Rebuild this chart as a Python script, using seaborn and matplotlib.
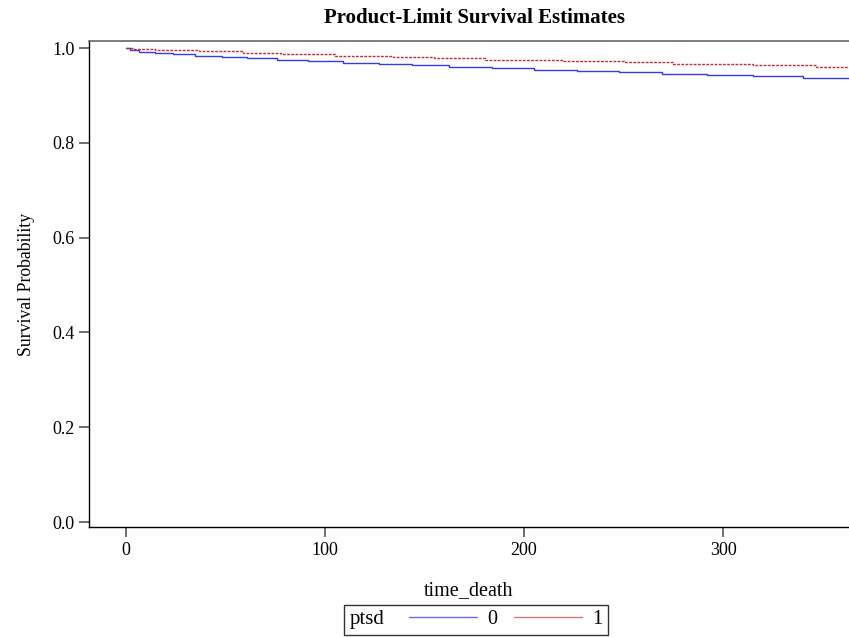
import pandas as pd
import seaborn as sns
import matplotlib.pyplot as plt
from matplotlib.lines import Line2D
from matplotlib.offsetbox import HPacker

# Kaplan-Meier step estimates
time_0 = [0, 2, 6.5, 14.6, 23.6, 34.7, 48.2, 60.8, 75.9, 91.5, 109, 127, 143.9,
          162.5, 184.1, 205, 226.5, 247.9, 269.2, 292.1, 314.9, 340, 365]
surv_0 = [1.0, 0.9964, 0.9922, 0.9888, 0.9867, 0.9838, 0.9804, 0.9783, 0.9753,
          0.9726, 0.969, 0.9662, 0.9635, 0.9599, 0.9572, 0.9542, 0.9515, 0.9487,
          0.9458, 0.943, 0.9403, 0.9373, 0.9373]
time_1 = [0, 3.7, 14.6, 36.8, 58.9, 77.7, 105, 134, 154.9, 180.4, 218.9, 250.4,
          275, 314.9, 346.7, 365]
surv_1 = [1.0, 0.9985, 0.9958, 0.993, 0.9895, 0.9867, 0.9838, 0.981, 0.9783,
          0.9753, 0.9726, 0.9698, 0.9662, 0.9635, 0.9599, 0.9572]

df = pd.concat([
    pd.DataFrame({'time_death': time_0, 'surv': surv_0, 'ptsd': '0'}),
    pd.DataFrame({'time_death': time_1, 'surv': surv_1, 'ptsd': '1'}),
])

sns.set_style('ticks')
plt.rcParams['font.family'] = ['Liberation Serif', 'DejaVu Serif']
plt.rcParams['text.color'] = 'black'
plt.rcParams['axes.labelcolor'] = 'black'

fig = plt.figure(figsize=(8.49, 6.37), dpi=100)
ax = fig.add_axes([89 / 849, 1 - 527 / 637, 1 - 89 / 849, (527 - 41) / 637])

colors = {'0': '#3a3ae0', '1': '#c8283c'}
sns.lineplot(data=df, x='time_death', y='surv', hue='ptsd', style='ptsd',
             palette=colors, dashes={'0': '', '1': (2, 1)},
             estimator=None, sort=False, drawstyle='steps-post',
             linewidth=1, legend=False, ax=ax)

ax.set_xlim(-18.6, 363.3)
ax.set_ylim(-0.0105, 1.0148)
ax.set_xticks([0, 100, 200, 300])
ax.set_yticks([0.0, 0.2, 0.4, 0.6, 0.8, 1.0])
ax.set_yticklabels(['0.0', '0.2', '0.4', '0.6', '0.8', '1.0'])
ax.tick_params(labelsize=13, length=7, color='#555555', width=1.2, labelcolor='black')
for s in ['left', 'bottom']:
    ax.spines[s].set_color('black')
    ax.spines[s].set_linewidth(1)
ax.spines['top'].set_color('#666666')
ax.spines['top'].set_linewidth(1.2)
ax.spines['right'].set_visible(False)

ax.set_xlabel('time_death', fontsize=14.5, labelpad=16)
ax.set_ylabel('Survival Probability', fontsize=12.8, labelpad=12)
fig.text(474 / 849, 1 - 18 / 637, 'Product-Limit Survival Estimates', fontsize=15,
         fontweight='bold', ha='center', va='center')

handles = [Line2D([], [], color='#6a6ae8', lw=1), Line2D([], [], color='#d07a80', lw=1)]
leg = fig.legend(handles, ['0', '1'], title='ptsd', ncol=2, loc='lower center',
                 bbox_to_anchor=(476 / 849, 2 / 637), fontsize=14.5, title_fontsize=15,
                 frameon=True, fancybox=False, edgecolor='black', handlelength=3.4,
                 columnspacing=0.8, borderpad=0.05, handletextpad=0.5, borderaxespad=0)
leg.get_frame().set_linewidth(1)
# put the legend title to the left of the entries, SAS style
fs = leg._fontsize
leg._legend_box = HPacker(pad=0.28 * fs, sep=1.2 * fs, align='center',
                          children=[leg._legend_title_box, leg._legend_handle_box])
leg._legend_box.set_figure(fig)
leg._legend_box.set_offset(leg._findoffset)
leg._legend_handle_box.pad = 0
leg._legend_title_box.pad = 0

fig.savefig('out.png', dpi=100)
